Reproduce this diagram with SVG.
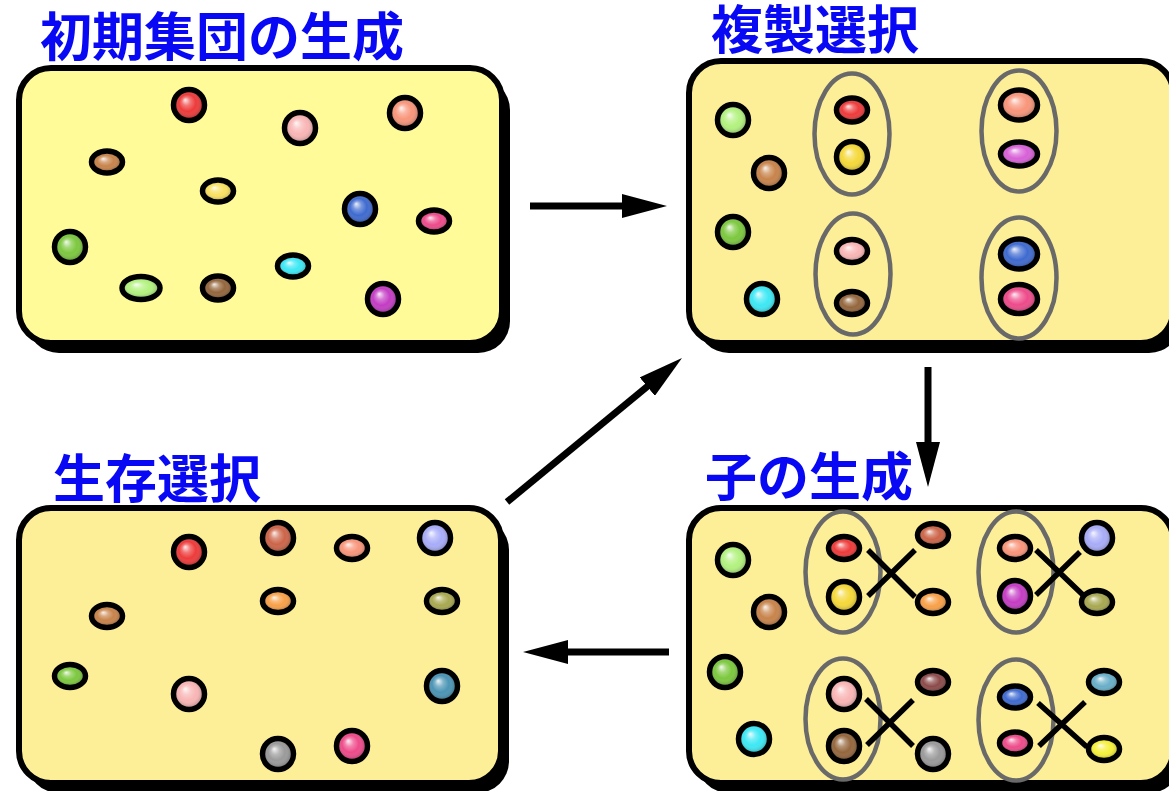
<svg xmlns="http://www.w3.org/2000/svg" width="1169" height="791" viewBox="0 0 1169 791">
<style>
.title{font-family:"Liberation Sans","Noto Sans CJK JP","Noto Sans CJK SC",sans-serif;font-weight:700;font-size:52px;fill:#0808F4}
.shadow{fill:#000}
.box{stroke:#000;stroke-width:6}
.b1{fill:#FFFB99}
.b2{fill:#FDEE98}
.d{stroke:#000;stroke-width:5.5}
.s{fill:url(#shine)}
.ov{fill:none;stroke:#696969;stroke-width:4.5}
.x{stroke:#000;stroke-width:5.5;stroke-linecap:butt}
.arr{stroke:#000;stroke-width:7;fill:none;marker-end:url(#head)}
</style>
<defs>
<radialGradient id="shine" cx="0.5" cy="0.5" r="0.55" fx="0.35" fy="0.3">
<stop offset="0" stop-color="#fff" stop-opacity="0.9"/>
<stop offset="0.3" stop-color="#fff" stop-opacity="0.3"/>
<stop offset="0.6" stop-color="#fff" stop-opacity="0"/>
<stop offset="1" stop-color="#000" stop-opacity="0.3"/>
</radialGradient>
<marker id="head" viewBox="0 0 45 24" refX="5" refY="12" markerWidth="45" markerHeight="24" markerUnits="userSpaceOnUse" orient="auto">
<path d="M0,0 L45,12 L0,24 Z" fill="#000"/>
</marker>
</defs>
<rect width="1169" height="791" fill="#fff"/>

<g id="initial-population">
<text class="title" x="40" y="56">初期集団の生成</text>
<rect class="shadow" x="27" y="78" width="483" height="275" rx="32"/>
<rect class="box b1" x="19" y="68" width="483" height="275" rx="32"/>
<ellipse class="d" cx="189" cy="105" rx="15.5" ry="15.5" fill="#EE3A3A"/><ellipse class="s" cx="189" cy="105" rx="13" ry="13"/>
<ellipse class="d" cx="300" cy="128" rx="15.5" ry="15.5" fill="#F9B5B5"/><ellipse class="s" cx="300" cy="128" rx="13" ry="13"/>
<ellipse class="d" cx="405" cy="113" rx="15.5" ry="15.5" fill="#F8957A"/><ellipse class="s" cx="405" cy="113" rx="13" ry="13"/>
<ellipse class="d" cx="107" cy="162" rx="15.5" ry="11" fill="#C8834A"/><ellipse class="s" cx="107" cy="162" rx="13" ry="8.5"/>
<ellipse class="d" cx="218" cy="191" rx="15.5" ry="11" fill="#F8E060"/><ellipse class="s" cx="218" cy="191" rx="13" ry="8.5"/>
<ellipse class="d" cx="360" cy="209" rx="15.5" ry="15.5" fill="#3E6AD0"/><ellipse class="s" cx="360" cy="209" rx="13" ry="13"/>
<ellipse class="d" cx="434" cy="221" rx="15.5" ry="11" fill="#EE4A8A"/><ellipse class="s" cx="434" cy="221" rx="13" ry="8.5"/>
<ellipse class="d" cx="70" cy="247" rx="15.5" ry="15.5" fill="#7CC83E"/><ellipse class="s" cx="70" cy="247" rx="13" ry="13"/>
<ellipse class="d" cx="141" cy="288" rx="19" ry="11.5" fill="#B2F27E"/><ellipse class="s" cx="141" cy="288" rx="16.5" ry="9"/>
<ellipse class="d" cx="218" cy="288" rx="15.5" ry="12" fill="#94663C"/><ellipse class="s" cx="218" cy="288" rx="13" ry="9.5"/>
<ellipse class="d" cx="293" cy="266" rx="15.5" ry="11" fill="#3CE8F4"/><ellipse class="s" cx="293" cy="266" rx="13" ry="8.5"/>
<ellipse class="d" cx="383" cy="299" rx="15.5" ry="15.5" fill="#C43CC4"/><ellipse class="s" cx="383" cy="299" rx="13" ry="13"/>
</g>

<g id="replication-selection">
<text class="title" x="711" y="49">複製選択</text>
<rect class="shadow" x="697" y="71" width="484" height="282" rx="32"/>
<rect class="box b2" x="689" y="61" width="484" height="282" rx="32"/>
<ellipse class="d" cx="733" cy="120" rx="15.5" ry="15.5" fill="#B2F27E"/><ellipse class="s" cx="733" cy="120" rx="13" ry="13"/>
<ellipse class="d" cx="769" cy="173" rx="15.5" ry="15.5" fill="#C8834A"/><ellipse class="s" cx="769" cy="173" rx="13" ry="13"/>
<ellipse class="d" cx="733" cy="232" rx="15.5" ry="15.5" fill="#7CC83E"/><ellipse class="s" cx="733" cy="232" rx="13" ry="13"/>
<ellipse class="d" cx="762" cy="299" rx="15.5" ry="15.5" fill="#3CE8F4"/><ellipse class="s" cx="762" cy="299" rx="13" ry="13"/>
<ellipse class="ov" cx="852" cy="134" rx="37.5" ry="60.5"/>
<ellipse class="ov" cx="1019" cy="131" rx="37.5" ry="60.5"/>
<ellipse class="ov" cx="853" cy="274" rx="37.5" ry="60.5"/>
<ellipse class="ov" cx="1019" cy="278" rx="37.5" ry="60.5"/>
<ellipse class="d" cx="852" cy="110" rx="15.5" ry="12" fill="#EE3A3A"/><ellipse class="s" cx="852" cy="110" rx="13" ry="9.5"/>
<ellipse class="d" cx="852" cy="157" rx="15.5" ry="15.5" fill="#F5D838"/><ellipse class="s" cx="852" cy="157" rx="13" ry="13"/>
<ellipse class="d" cx="1019" cy="105" rx="18.5" ry="15" fill="#F8957A"/><ellipse class="s" cx="1019" cy="105" rx="16" ry="12.5"/>
<ellipse class="d" cx="1019" cy="154" rx="18.5" ry="12" fill="#D860D8"/><ellipse class="s" cx="1019" cy="154" rx="16" ry="9.5"/>
<ellipse class="d" cx="852" cy="251" rx="15.5" ry="11.5" fill="#F9B5B5"/><ellipse class="s" cx="852" cy="251" rx="13" ry="9"/>
<ellipse class="d" cx="852" cy="303" rx="15.5" ry="11.5" fill="#94663C"/><ellipse class="s" cx="852" cy="303" rx="13" ry="9"/>
<ellipse class="d" cx="1019" cy="254" rx="18.5" ry="15" fill="#3E6AD0"/><ellipse class="s" cx="1019" cy="254" rx="16" ry="12.5"/>
<ellipse class="d" cx="1019" cy="299" rx="18.5" ry="14.5" fill="#EE4A8A"/><ellipse class="s" cx="1019" cy="299" rx="16" ry="12"/>
</g>

<g id="survival-selection">
<text class="title" x="53" y="498">生存選択</text>
<rect class="shadow" x="27" y="518" width="482" height="275" rx="32"/>
<rect class="box b2" x="19" y="508" width="482" height="275" rx="32"/>
<ellipse class="d" cx="189" cy="552" rx="15.5" ry="15.5" fill="#EE3A3A"/><ellipse class="s" cx="189" cy="552" rx="13" ry="13"/>
<ellipse class="d" cx="278" cy="538" rx="15.5" ry="15.5" fill="#CC6448"/><ellipse class="s" cx="278" cy="538" rx="13" ry="13"/>
<ellipse class="d" cx="352" cy="548" rx="15.5" ry="11.5" fill="#F8957A"/><ellipse class="s" cx="352" cy="548" rx="13" ry="9"/>
<ellipse class="d" cx="435" cy="538" rx="15.5" ry="15.5" fill="#A8ACF8"/><ellipse class="s" cx="435" cy="538" rx="13" ry="13"/>
<ellipse class="d" cx="107" cy="616" rx="15.5" ry="11.5" fill="#C8834A"/><ellipse class="s" cx="107" cy="616" rx="13" ry="9"/>
<ellipse class="d" cx="278" cy="601" rx="15.5" ry="11.5" fill="#F8A048"/><ellipse class="s" cx="278" cy="601" rx="13" ry="9"/>
<ellipse class="d" cx="442" cy="601" rx="15.5" ry="11.5" fill="#A8A850"/><ellipse class="s" cx="442" cy="601" rx="13" ry="9"/>
<ellipse class="d" cx="70" cy="676" rx="15.5" ry="11.5" fill="#7CC83E"/><ellipse class="s" cx="70" cy="676" rx="13" ry="9"/>
<ellipse class="d" cx="189" cy="694" rx="15.5" ry="15.5" fill="#F9B5B5"/><ellipse class="s" cx="189" cy="694" rx="13" ry="13"/>
<ellipse class="d" cx="442" cy="686" rx="15.5" ry="15.5" fill="#4A94B4"/><ellipse class="s" cx="442" cy="686" rx="13" ry="13"/>
<ellipse class="d" cx="278" cy="754" rx="15.5" ry="15.5" fill="#9A9A9A"/><ellipse class="s" cx="278" cy="754" rx="13" ry="13"/>
<ellipse class="d" cx="352" cy="746" rx="15.5" ry="15.5" fill="#EE4A8A"/><ellipse class="s" cx="352" cy="746" rx="13" ry="13"/>
</g>

<g id="offspring-generation">
<text class="title" x="705" y="496">子の生成</text>
<rect class="shadow" x="697" y="518" width="484" height="275" rx="32"/>
<rect class="box b2" x="689" y="508" width="484" height="275" rx="32"/>
<ellipse class="d" cx="733" cy="560" rx="15.5" ry="15.5" fill="#B2F27E"/><ellipse class="s" cx="733" cy="560" rx="13" ry="13"/>
<ellipse class="d" cx="769" cy="612" rx="15.5" ry="15.5" fill="#C8834A"/><ellipse class="s" cx="769" cy="612" rx="13" ry="13"/>
<ellipse class="d" cx="725" cy="672" rx="15.5" ry="15.5" fill="#7CC83E"/><ellipse class="s" cx="725" cy="672" rx="13" ry="13"/>
<ellipse class="d" cx="754" cy="739" rx="15.5" ry="15.5" fill="#3CE8F4"/><ellipse class="s" cx="754" cy="739" rx="13" ry="13"/>
<ellipse class="ov" cx="843" cy="572" rx="37.5" ry="60.5"/>
<ellipse class="ov" cx="1016" cy="572" rx="37.5" ry="60.5"/>
<ellipse class="ov" cx="843" cy="719" rx="37.5" ry="60.5"/>
<ellipse class="ov" cx="1016" cy="720" rx="37.5" ry="60.5"/>
<path class="x" d="M868,550 L915,597 M868,596 L915,550 M1036,550 L1083,595 M1036,595 L1080,552 M866,699 L913,746 M867,745 L913,700 M1038,703 L1087,747 M1039,746 L1085,702"/>
<ellipse class="d" cx="844" cy="548" rx="15.5" ry="11.5" fill="#EE3A3A"/><ellipse class="s" cx="844" cy="548" rx="13" ry="9"/>
<ellipse class="d" cx="844" cy="597" rx="15.5" ry="15.5" fill="#F5D838"/><ellipse class="s" cx="844" cy="597" rx="13" ry="13"/>
<ellipse class="d" cx="933" cy="535" rx="15.5" ry="11.5" fill="#CC6448"/><ellipse class="s" cx="933" cy="535" rx="13" ry="9"/>
<ellipse class="d" cx="933" cy="602" rx="15.5" ry="11.5" fill="#F8A048"/><ellipse class="s" cx="933" cy="602" rx="13" ry="9"/>
<ellipse class="d" cx="1015" cy="548" rx="15.5" ry="11.5" fill="#F8957A"/><ellipse class="s" cx="1015" cy="548" rx="13" ry="9"/>
<ellipse class="d" cx="1015" cy="596" rx="15.5" ry="15.5" fill="#C43CC4"/><ellipse class="s" cx="1015" cy="596" rx="13" ry="13"/>
<ellipse class="d" cx="1097" cy="538" rx="15.5" ry="15.5" fill="#A8ACF8"/><ellipse class="s" cx="1097" cy="538" rx="13" ry="13"/>
<ellipse class="d" cx="1097" cy="602" rx="15.5" ry="11.5" fill="#A8A850"/><ellipse class="s" cx="1097" cy="602" rx="13" ry="9"/>
<ellipse class="d" cx="844" cy="694" rx="15.5" ry="15.5" fill="#F9B5B5"/><ellipse class="s" cx="844" cy="694" rx="13" ry="13"/>
<ellipse class="d" cx="844" cy="746" rx="15.5" ry="15.5" fill="#94663C"/><ellipse class="s" cx="844" cy="746" rx="13" ry="13"/>
<ellipse class="d" cx="933" cy="682" rx="15.5" ry="11.5" fill="#8C4A4A"/><ellipse class="s" cx="933" cy="682" rx="13" ry="9"/>
<ellipse class="d" cx="933" cy="754" rx="15.5" ry="15.5" fill="#9A9A9A"/><ellipse class="s" cx="933" cy="754" rx="13" ry="13"/>
<ellipse class="d" cx="1015" cy="697" rx="15.5" ry="11" fill="#3E6AD0"/><ellipse class="s" cx="1015" cy="697" rx="13" ry="8.5"/>
<ellipse class="d" cx="1015" cy="743" rx="15.5" ry="11" fill="#EE4A8A"/><ellipse class="s" cx="1015" cy="743" rx="13" ry="8.5"/>
<ellipse class="d" cx="1104" cy="682" rx="15.5" ry="11.5" fill="#68AEC8"/><ellipse class="s" cx="1104" cy="682" rx="13" ry="9"/>
<ellipse class="d" cx="1104" cy="749" rx="15.5" ry="11.5" fill="#F6F03A"/><ellipse class="s" cx="1104" cy="749" rx="13" ry="9"/>
</g>

<g id="connectors">
<line class="arr" x1="530" y1="206" x2="627" y2="206"/>
<line class="arr" x1="928" y1="367" x2="928" y2="447"/>
<line class="arr" x1="669" y1="652" x2="563" y2="652"/>
<line class="arr" x1="507" y1="502" x2="651.1" y2="383.4"/>
</g>
</svg>
